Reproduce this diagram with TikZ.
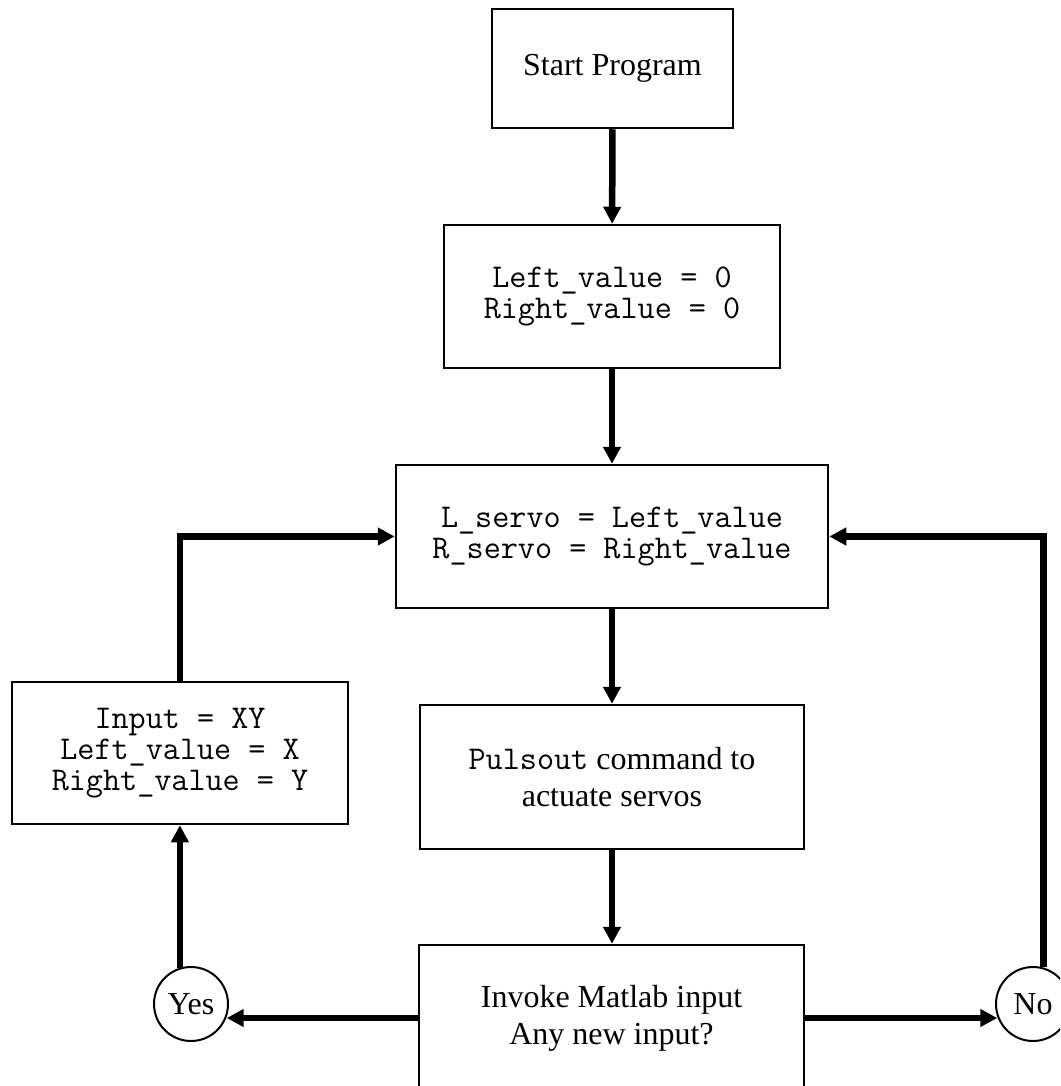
\documentclass[tikz,border=0pt]{standalone}
\usepackage{fontspec}
\setmainfont{Liberation Serif}
\usetikzlibrary{arrows.meta}
\newcommand{\code}[1]{{\fontsize{16.6}{15.5}\selectfont\ttfamily #1}}

\begin{document}
\begin{tikzpicture}[x=0.5pt, y=-0.5pt,
  box/.style={draw, line width=1.25pt, align=center, inner sep=0pt, font=\fontsize{16}{18.5}\selectfont},
  codebox/.style={box, font=\fontsize{16.6}{15.5}\selectfont\ttfamily},
  answer/.style={draw, circle, line width=1pt, minimum size=37pt, inner sep=0pt, font=\fontsize{16}{18.5}\selectfont},
  flow/.style={line width=3.25pt, -{Triangle[length=8.5pt,width=8.5pt]}}]
\clip (0,0) rectangle (1060,1086);
\node[box, minimum width=120.5pt, minimum height=59.5pt] (start) at (612.5,68.5) {Start Program};
\node[codebox, minimum width=168pt, minimum height=71.5pt] (init) at (612,296.5) {Left\_value = 0\\Right\_value = 0};
\node[codebox, minimum width=216pt, minimum height=71.5pt] (servo) at (612,536.5) {L\_servo = Left\_value\\R\_servo = Right\_value};
\node[codebox, minimum width=168pt, minimum height=71pt] (input) at (180,753) {Input = XY\\Left\_value = X\\Right\_value = Y};
\node[box, minimum width=192pt, minimum height=72pt] (pulse) at (612,777) {\code{Pulsout} command to\\actuate servos};
\node[box, minimum width=192.5pt, minimum height=73pt] (query) at (611.5,1018) {Invoke Matlab input\\Any new input?};
\node[answer] (yes) at (191,1004) {Yes};
\node[answer] (no) at (1033,1004) {No};
\draw[flow] (start) -- (init);
\draw[flow] (init) -- (servo);
\draw[flow] (servo) -- (pulse);
\draw[flow] (pulse) -- (pulse |- query.north);
\draw[flow] (query.west) -- (query.west -| yes.-20);
\draw[flow] (query.east) -- (query.east -| no.200);
\draw[flow] (yes.107) -- (yes.107 |- input.south);
\draw[flow] (input) |- (servo);
\draw[flow] (no.74) |- (servo);
\end{tikzpicture}
\end{document}
